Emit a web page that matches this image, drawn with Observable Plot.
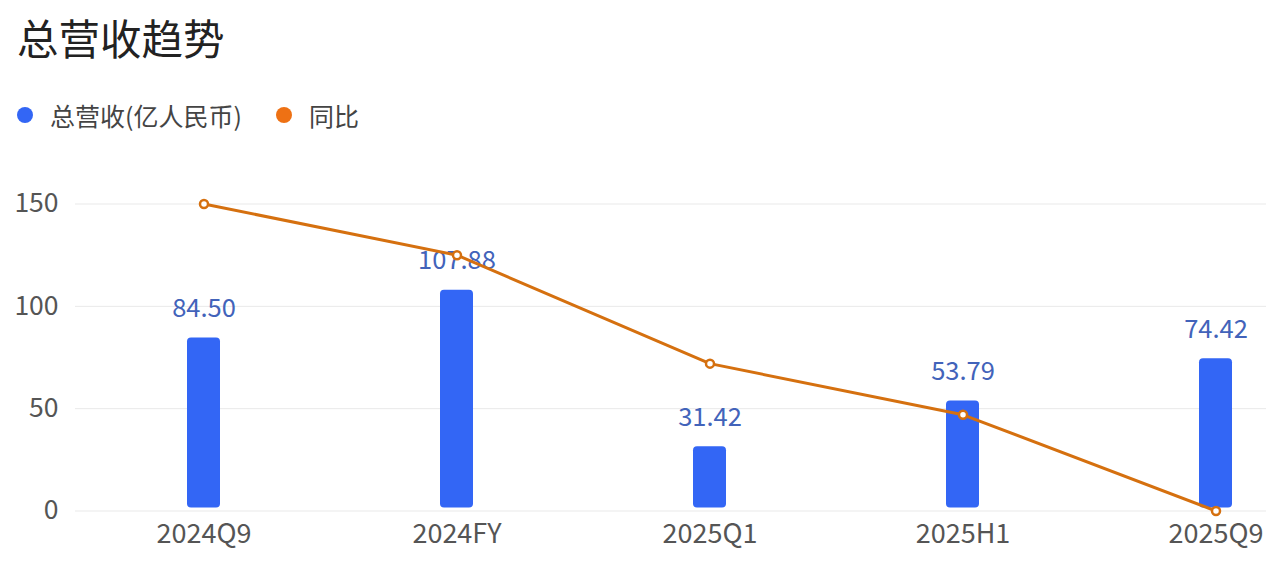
<!DOCTYPE html>
<html>
<head>
<meta charset="utf-8">
<script src="https://cdn.jsdelivr.net/npm/d3@7"></script>
<script src="https://cdn.jsdelivr.net/npm/@observablehq/plot@0.6"></script>
<style>
  html, body { margin: 0; padding: 0; background: #fff; }
  body { width: 1268px; height: 573px; overflow: hidden; font-family: "Noto Sans CJK SC", "Noto Sans", sans-serif; }
  #title { height: 76px; line-height: 74px; padding-left: 17px; font-size: 41.5px; color: #222; }
  #legend { height: 78px; display: flex; align-items: center; font-size: 25px; color: #444; padding-left: 17px; }
  .item { display: flex; align-items: center; margin-right: 34px; }
  .dot { width: 16px; height: 16px; border-radius: 50%; margin-right: 17px; }
  #chart svg { display: block; }
</style>
</head>
<body>
<div id="title">总营收趋势</div>
<div id="legend"></div>
<div id="chart"></div>
<script>
const categories = ["2024Q9", "2024FY", "2025Q1", "2025H1", "2025Q9"];
const revenue = [84.50, 107.88, 31.42, 53.79, 74.42];
const yoy = [150, 125, 72, 47, 0];
const yTicks = [0, 50, 100, 150];
const seriesNames = ["总营收(亿人民币)", "同比"];
const barColor = "#3366F5";
const labelColor = "#4263BA";
const lineColor = "#D5700F";

const legend = document.getElementById("legend");
[[seriesNames[0], barColor], [seriesNames[1], "#EE7114"]].forEach(([name, c]) => {
  const it = document.createElement("div");
  it.className = "item";
  it.innerHTML = `<span class="dot" style="background:${c}"></span><span>${name}</span>`;
  legend.appendChild(it);
});

const data = categories.map((c, i) => ({cat: c, rev: revenue[i], yoy: yoy[i], label: revenue[i].toFixed(2)}));

const H = 419;
const chart = Plot.plot({
  width: 1268,
  height: H,
  marginLeft: 75,
  marginRight: 2,
  marginTop: 0,
  marginBottom: 62.5,
  style: {fontFamily: "'Noto Sans CJK SC', 'Noto Sans', sans-serif", fontSize: "26px", color: "#555", background: "#fff"},
  x: {type: "band", domain: categories, range: [76.5, 1341.5], padding: 0, label: null},
  y: {domain: [0, 150], range: [356.5, 49.5], label: null},
  marks: [
    Plot.gridY(yTicks, {stroke: "#e9e9e9", strokeOpacity: 1, strokeWidth: 1}),
    Plot.axisY(yTicks, {tickSize: 0, tickPadding: 17, fontSize: 26.5, fill: "#555", label: null}),
    Plot.axisX({tickSize: 0, tickPadding: 13, fontSize: 27, fill: "#555", label: null}),
    Plot.barY(data, {x: "cat", y: "rev", fill: barColor, insetLeft: 110, insetRight: 110, insetBottom: 3, rx: 4}),
    Plot.text(data, {x: "cat", y: "rev", text: "label", dy: -29, fill: labelColor, fontSize: 25.5}),
    Plot.line(data, {x: "cat", y: "yoy", stroke: lineColor, strokeWidth: 3}),
    Plot.dot(data, {x: "cat", y: "yoy", r: 4, fill: "#fff", stroke: lineColor, strokeWidth: 2.5})
  ]
});
document.getElementById("chart").appendChild(chart);
</script>
</body>
</html>
